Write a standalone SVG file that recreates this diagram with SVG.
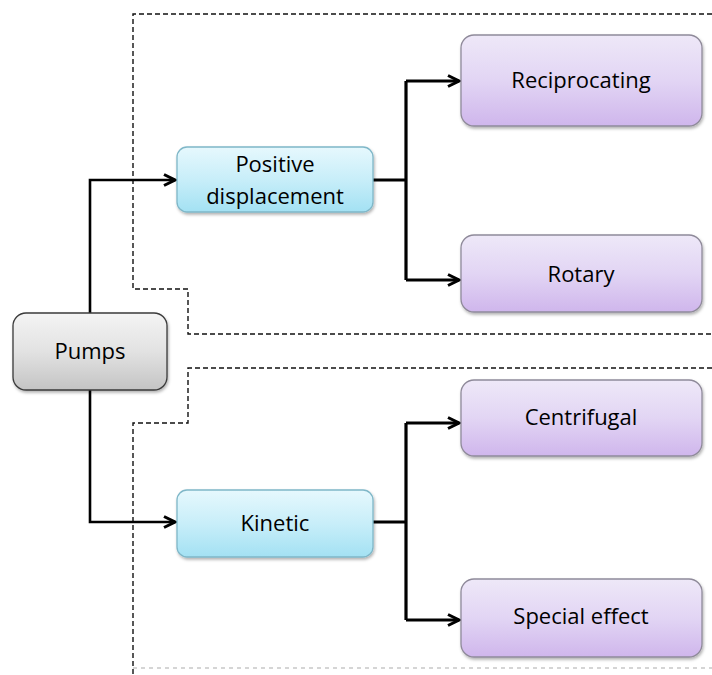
<svg xmlns="http://www.w3.org/2000/svg" width="712" height="675" viewBox="0 0 712 675">
<defs>
<linearGradient id="gGray" x1="0" y1="0" x2="0" y2="1"><stop offset="0" stop-color="#f4f4f4"/><stop offset="0.5" stop-color="#e2e2e2"/><stop offset="1" stop-color="#c4c4c4"/></linearGradient>
<linearGradient id="gCyan" x1="0" y1="0" x2="0" y2="1"><stop offset="0" stop-color="#e6f8fd"/><stop offset="0.5" stop-color="#c8eef9"/><stop offset="1" stop-color="#a3e1f3"/></linearGradient>
<linearGradient id="gPurp" x1="0" y1="0" x2="0" y2="1"><stop offset="0" stop-color="#eee8f8"/><stop offset="0.5" stop-color="#e2d5f4"/><stop offset="1" stop-color="#cfb6ec"/></linearGradient>
<filter id="sh" x="-10%" y="-10%" width="130%" height="140%"><feDropShadow dx="1" dy="2" stdDeviation="1.5" flood-color="#000" flood-opacity="0.3"/></filter>
<marker id="arr" viewBox="0 0 14 14" refX="12.5" refY="7" markerWidth="14" markerHeight="14" markerUnits="userSpaceOnUse" orient="auto"><path d="M1.5,1.5 L12.5,7 L1.5,12.5" fill="none" stroke="#000" stroke-width="3"/></marker>
</defs>
<style>
.dash{fill:none;stroke:#111;stroke-width:1.4;stroke-dasharray:5,3}
.faint{fill:none;stroke:#c8c8c8;stroke-width:1.4;stroke-dasharray:4,4}
.conn{fill:none;stroke:#000;stroke-width:3.2}
.main{fill:none;stroke:#000;stroke-width:2.6}
.box{stroke-width:1.3;filter:url(#sh)}
.gray{fill:url(#gGray);stroke:#3a3a3a}
.cyan{fill:url(#gCyan);stroke:#7fb7c8}
.purp{fill:url(#gPurp);stroke:#8f8a9a}
text{font-family:"Open Sans","Noto Sans","Liberation Sans",sans-serif;font-size:22px;fill:#000;text-anchor:middle}
</style>
<rect width="712" height="675" fill="#fff"/>
<g id="regions">
<path class="dash" d="M712,14 H133 V289 H188 V334 H712"/>
<path class="dash" d="M712,368 H188 V423 H133 V675"/>
<path class="faint" d="M133,668 H712"/>
</g>
<g id="connectors">
<path class="main" d="M90,313 V180 H175" marker-end="url(#arr)"/>
<path class="main" d="M90,390 V522 H175" marker-end="url(#arr)"/>
<path class="conn" d="M373,180 H406"/>
<path class="conn" d="M406,81 V280"/>
<path class="conn" d="M406,81 H459" marker-end="url(#arr)"/>
<path class="conn" d="M406,280 H459" marker-end="url(#arr)"/>
<path class="conn" d="M373,522 H406"/>
<path class="conn" d="M406,423 V620"/>
<path class="conn" d="M406,423 H459" marker-end="url(#arr)"/>
<path class="conn" d="M406,620 H459" marker-end="url(#arr)"/>
</g>
<g id="pumps"><rect class="box gray" x="13" y="313" width="154" height="77" rx="13"/><text x="90" y="359">Pumps</text></g>
<g id="positive"><rect class="box cyan" x="177" y="147" width="196" height="65" rx="10"/><text x="275" y="172">Positive</text><text x="275" y="204">displacement</text></g>
<g id="kinetic"><rect class="box cyan" x="177" y="490" width="196" height="67" rx="10"/><text x="275" y="531">Kinetic</text></g>
<g id="reciprocating"><rect class="box purp" x="461" y="35" width="241" height="91" rx="13"/><text x="581" y="88">Reciprocating</text></g>
<g id="rotary"><rect class="box purp" x="461" y="235" width="241" height="77" rx="13"/><text x="581" y="282">Rotary</text></g>
<g id="centrifugal"><rect class="box purp" x="461" y="380" width="241" height="76" rx="13"/><text x="581" y="425">Centrifugal</text></g>
<g id="special"><rect class="box purp" x="461" y="579" width="241" height="78" rx="13"/><text x="581" y="624">Special effect</text></g>
</svg>
